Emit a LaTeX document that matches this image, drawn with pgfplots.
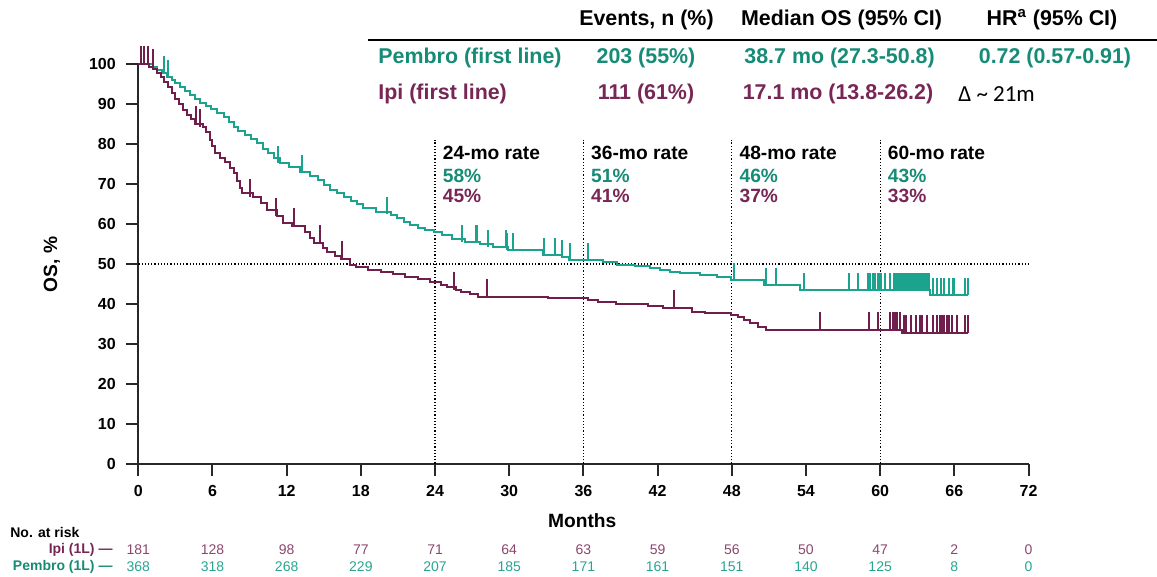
\documentclass[border=0pt]{standalone}
\usepackage{pgfplots}
\pgfplotsset{compat=1.18}
\usepackage{fontspec}
\setmainfont{Liberation Sans}
\newfontfamily\calibri{Carlito}

\definecolor{tealline}{RGB}{27,163,142}
\definecolor{tealtext}{RGB}{22,140,118}
\definecolor{ipiline}{RGB}{112,30,76}
\definecolor{ipitext}{RGB}{120,38,85}
\definecolor{ipirisk}{RGB}{140,70,110}
\definecolor{pemrisk}{RGB}{40,165,145}
\definecolor{axgray}{RGB}{40,40,40}

% censor tick: a short stroke upwards from the curve
\pgfdeclareplotmark{cens}{%
  \pgfpathmoveto{\pgfpointorigin}%
  \pgfpathlineto{\pgfqpoint{0pt}{\pgfplotmarksize}}%
  \pgfusepathqstroke}

\newcommand{\tabfont}{\fontsize{10.7}{12}\selectfont\bfseries}
\newcommand{\ratefont}{\fontsize{9.6}{11}\selectfont\bfseries}
\newcommand{\riskfont}{\fontsize{7}{8}\selectfont}

\begin{document}
\begin{tikzpicture}
\begin{axis}[
    width=445.1pt, height=199.6pt, scale only axis,
    xmin=0, xmax=72, ymin=0, ymax=100,
    axis x line=bottom, axis y line=left,
    axis line style={-, line width=1pt, axgray},
    xtick={0,6,...,72}, ytick={0,10,...,100},
    tick align=outside, major tick length=6.25pt,
    tick style={line width=1pt, axgray},
    ticklabel style={font=\fontsize{8}{9}\selectfont\bfseries},
    yticklabel style={xshift=-1.5pt},
    xticklabel style={yshift=-1pt},
    /pgf/number format/assume math mode=true,
    clip=false,
  ]
% reference lines
\addplot[densely dotted, line width=0.6pt, black] coordinates {(0,50) (72,50)};
\addplot[densely dotted, line width=0.6pt, black] coordinates {(24,0) (24,81)};
\addplot[densely dotted, line width=0.6pt, black] coordinates {(36,0) (36,81)};
\addplot[densely dotted, line width=0.6pt, black] coordinates {(48,0) (48,81)};
\addplot[densely dotted, line width=0.6pt, black] coordinates {(60,0) (60,81)};

% Pembro (first line)
\addplot[const plot, tealline, line width=1pt] coordinates {
 (0,100) (1.2,99.3) (1.5,98.6) (1.9,97.8) (2.3,96.9) (2.7,96.0) (3.0,95.2)
 (3.4,94.3) (3.8,93.2) (4.2,92.2) (4.6,91.2) (5.0,90.4) (5.5,89.6) (5.9,88.7)
 (6.4,87.8) (6.9,86.8) (7.3,85.6) (7.7,84.4) (8.1,83.4) (8.6,82.4) (9.1,81.3)
 (9.6,80.2) (10.1,78.9) (10.5,77.7) (11.0,76.5) (11.5,75.2) (12.2,74.3)
 (13.1,73.1) (13.9,72.0) (14.5,70.9) (15.0,69.7) (15.5,68.6) (16.1,67.7)
 (16.6,66.8) (17.2,65.8) (17.7,64.9) (18.2,63.9) (19.2,63.1) (20.4,62.2)
 (20.9,61.4) (21.5,60.6) (22.0,59.7) (22.6,59.0) (23.2,58.4) (23.9,58.0)
 (24.6,57.2) (25.4,56.3) (26.4,55.6) (27.6,55.0) (28.7,54.2) (29.9,53.4)
 (32.7,52.3) (34.3,51.7) (34.8,51.1) (37.6,50.5) (38.7,49.8) (40.2,49.5)
 (41.4,49.1) (42.2,48.6) (43.0,48.0) (43.8,47.6) (45.4,47.2) (46.8,46.6)
 (47.9,46.0) (50.6,44.8) (53.5,43.5) (64.0,42.2) (67.1,42.2)
};
\addplot[only marks, mark=cens, mark size=8.5pt, tealline, line width=1pt] coordinates {
 (2.1,97.8) (2.4,96.9) (11.3,75.2) (13.2,73.1) (20.1,62.5) (26.2,55.6)
 (27.3,55.6) (27.4,55.6) (28.3,54.2) (29.7,54.2) (29.85,53.4) (30.3,53.4)
 (32.8,52.3) (33.7,52.3) (34.3,51.7) (34.9,51.1) (36.4,51.1)
 (48.2,46.0) (50.8,44.8) (51.6,44.8) (53.8,43.5) (57.5,43.5) (58.2,43.5)
 (59.0,43.5) (59.2,43.5) (59.4,43.5) (59.6,43.5) (59.8,43.5) (59.9,43.5)
 (60.1,43.5) (60.4,43.5) (60.8,43.5)
 (61.10,43.5) (61.22,43.5) (61.34,43.5) (61.46,43.5) (61.58,43.5) (61.70,43.5)
 (61.82,43.5) (61.94,43.5) (62.06,43.5) (62.18,43.5) (62.30,43.5) (62.42,43.5)
 (62.54,43.5) (62.66,43.5) (62.78,43.5) (62.90,43.5) (63.02,43.5) (63.14,43.5)
 (63.26,43.5) (63.38,43.5) (63.50,43.5) (63.62,43.5) (63.74,43.5) (63.86,43.5)
 (63.98,43.5)
 (64.3,42.2) (64.6,42.2) (64.9,42.2) (65.2,42.2) (65.6,42.2) (65.9,42.2)
 (66.0,42.2) (66.9,42.2) (67.1,42.2)
};

% Ipi (first line)
\addplot[const plot, ipiline, line width=1pt] coordinates {
 (0,100) (0.9,99.4) (1.2,98.8) (1.5,97.9) (1.8,96.9) (2.1,95.6) (2.4,94.2)
 (2.7,92.7) (3.0,91.3) (3.3,90.0) (3.6,88.5) (3.9,87.2) (4.3,86.2) (4.6,85.0)
 (5.2,84.4) (5.5,83.0) (5.8,81.0) (6.0,79.5) (6.2,77.7) (6.6,76.5) (7.0,75.5)
 (7.4,74.0) (7.7,72.7) (8.0,70.8) (8.2,69.0) (8.4,67.7) (9.3,66.8) (9.9,65.2)
 (10.4,63.5) (11.2,62.0) (11.7,60.3) (12.4,59.4) (13.5,58.0) (13.9,56.5)
 (14.2,55.2) (14.9,54.0) (15.3,53.1) (15.9,52.1) (16.4,51.2) (17.1,49.8)
 (17.6,49.3) (18.6,48.6) (19.6,48.0) (20.6,47.4) (21.6,46.8) (22.6,46.1)
 (23.6,45.4) (24.5,44.8) (25.0,44.2) (25.7,43.5) (26.1,43.0) (26.8,42.4)
 (27.5,41.8) (33.1,41.4) (36.4,40.9) (37.2,40.4) (38.6,39.9) (41.2,39.4)
 (42.4,38.9) (44.8,38.0) (45.8,37.6) (47.9,37.2) (48.5,36.6) (49.0,35.9)
 (49.5,35.1) (50.1,34.3) (50.8,33.4) (61.8,32.6) (67.1,32.6)
};
\addplot[only marks, mark=cens, mark size=9pt, ipiline, line width=1pt] coordinates {
 (0.2,100) (0.46,100) (0.8,100) (1.15,99.4) (4.7,85.0) (5.0,84.4)
 (9.0,66.8) (11.1,62.0) (12.6,59.4) (14.7,55.2) (16.5,51.2)
 (25.5,43.5) (28.2,41.8) (43.3,38.9) (55.1,33.4)
 (59.1,33.4) (59.8,33.4) (60.8,33.4) (61.0,33.4) (61.2,33.4) (61.4,33.4)
 (61.6,33.4) (61.9,32.6) (62.1,32.6) (62.5,32.6) (62.9,32.6) (63.2,32.6)
 (63.4,32.6) (63.8,32.6) (64.3,32.6) (64.6,32.6) (64.8,32.6) (65.0,32.6)
 (65.2,32.6) (65.4,32.6) (65.6,32.6) (65.8,32.6) (66.2,32.6) (66.9,32.6)
 (67.1,32.6)
};

% header table
\node[font=\tabfont] at (axis cs:41.10,111.1) {Events, n (\%)};
\node[font=\tabfont] at (axis cs:56.88,111.1) {Median OS (95\% CI)};
\node[font=\tabfont] at (axis cs:73.90,111.1) {HR\textsuperscript{a} (95\% CI)};
\draw[line width=0.6pt, black] (axis cs:18.58,106.1) -- (axis cs:82.39,106.1);
\node[font=\tabfont, tealtext, anchor=west, inner sep=0pt] at (axis cs:19.39,101.6) {Pembro (first line)};
\node[font=\tabfont, tealtext] at (axis cs:41.06,101.6) {203 (55\%)};
\node[font=\tabfont, tealtext] at (axis cs:56.72,101.6) {38.7 mo (27.3-50.8)};
\node[font=\tabfont, tealtext] at (axis cs:74.14,101.6) {0.72 (0.57-0.91)};
\node[font=\tabfont, ipitext, anchor=west, inner sep=0pt] at (axis cs:19.39,92.6) {Ipi (first line)};
\node[font=\tabfont, ipitext] at (axis cs:41.06,92.6) {111 (61\%)};
\node[font=\tabfont, ipitext] at (axis cs:56.59,92.6) {17.1 mo (13.8-26.2)};
\node[font=\calibri\fontsize{11.5}{13}\selectfont, anchor=west, inner sep=0pt] at (axis cs:66.29,92.6) {Δ \textasciitilde{} 21m};

% landmark rates
\node[font=\ratefont, anchor=west, inner sep=0pt] at (axis cs:24.6,77.8) {24-mo rate};
\node[font=\ratefont, tealtext, anchor=west, inner sep=0pt] at (axis cs:24.6,72.0) {58\%};
\node[font=\ratefont, ipitext, anchor=west, inner sep=0pt] at (axis cs:24.6,67.0) {45\%};
\node[font=\ratefont, anchor=west, inner sep=0pt] at (axis cs:36.6,77.8) {36-mo rate};
\node[font=\ratefont, tealtext, anchor=west, inner sep=0pt] at (axis cs:36.6,72.0) {51\%};
\node[font=\ratefont, ipitext, anchor=west, inner sep=0pt] at (axis cs:36.6,67.0) {41\%};
\node[font=\ratefont, anchor=west, inner sep=0pt] at (axis cs:48.6,77.8) {48-mo rate};
\node[font=\ratefont, tealtext, anchor=west, inner sep=0pt] at (axis cs:48.6,72.0) {46\%};
\node[font=\ratefont, ipitext, anchor=west, inner sep=0pt] at (axis cs:48.6,67.0) {37\%};
\node[font=\ratefont, anchor=west, inner sep=0pt] at (axis cs:60.6,77.8) {60-mo rate};
\node[font=\ratefont, tealtext, anchor=west, inner sep=0pt] at (axis cs:60.6,72.0) {43\%};
\node[font=\ratefont, ipitext, anchor=west, inner sep=0pt] at (axis cs:60.6,67.0) {33\%};

% axis titles
\node[font=\ratefont, rotate=90] at (axis cs:-6.98,49.9) {OS, \%};
\node[font=\ratefont] at (axis cs:35.9,-14.4) {Months};

% number at risk
\node[font=\riskfont\bfseries, anchor=west, inner sep=0pt] at (axis cs:-10.38,-17.4) {No. at risk};
\node[font=\riskfont\bfseries, ipitext, anchor=east, inner sep=0pt] at (axis cs:-2.05,-21.67) {Ipi (1L) —};
\node[font=\riskfont\bfseries, tealtext, anchor=east, inner sep=0pt] at (axis cs:-2.05,-25.93) {Pembro (1L) —};
\node[font=\riskfont, ipirisk] at (axis cs:0,-21.67) {181};
\node[font=\riskfont, ipirisk] at (axis cs:6,-21.67) {128};
\node[font=\riskfont, ipirisk] at (axis cs:12,-21.67) {98};
\node[font=\riskfont, ipirisk] at (axis cs:18,-21.67) {77};
\node[font=\riskfont, ipirisk] at (axis cs:24,-21.67) {71};
\node[font=\riskfont, ipirisk] at (axis cs:30,-21.67) {64};
\node[font=\riskfont, ipirisk] at (axis cs:36,-21.67) {63};
\node[font=\riskfont, ipirisk] at (axis cs:42,-21.67) {59};
\node[font=\riskfont, ipirisk] at (axis cs:48,-21.67) {56};
\node[font=\riskfont, ipirisk] at (axis cs:54,-21.67) {50};
\node[font=\riskfont, ipirisk] at (axis cs:60,-21.67) {47};
\node[font=\riskfont, ipirisk] at (axis cs:66,-21.67) {2};
\node[font=\riskfont, ipirisk] at (axis cs:72,-21.67) {0};
\node[font=\riskfont, pemrisk] at (axis cs:0,-25.93) {368};
\node[font=\riskfont, pemrisk] at (axis cs:6,-25.93) {318};
\node[font=\riskfont, pemrisk] at (axis cs:12,-25.93) {268};
\node[font=\riskfont, pemrisk] at (axis cs:18,-25.93) {229};
\node[font=\riskfont, pemrisk] at (axis cs:24,-25.93) {207};
\node[font=\riskfont, pemrisk] at (axis cs:30,-25.93) {185};
\node[font=\riskfont, pemrisk] at (axis cs:36,-25.93) {171};
\node[font=\riskfont, pemrisk] at (axis cs:42,-25.93) {161};
\node[font=\riskfont, pemrisk] at (axis cs:48,-25.93) {151};
\node[font=\riskfont, pemrisk] at (axis cs:54,-25.93) {140};
\node[font=\riskfont, pemrisk] at (axis cs:60,-25.93) {125};
\node[font=\riskfont, pemrisk] at (axis cs:66,-25.93) {8};
\node[font=\riskfont, pemrisk] at (axis cs:72,-25.93) {0};

\coordinate (bbl) at (axis cs:-11.186,-28.18);
\coordinate (btr) at (axis cs:82.39,116.11);
\end{axis}
\pgfresetboundingbox
\path[use as bounding box] (bbl) rectangle (btr);
\end{tikzpicture}
\end{document}
